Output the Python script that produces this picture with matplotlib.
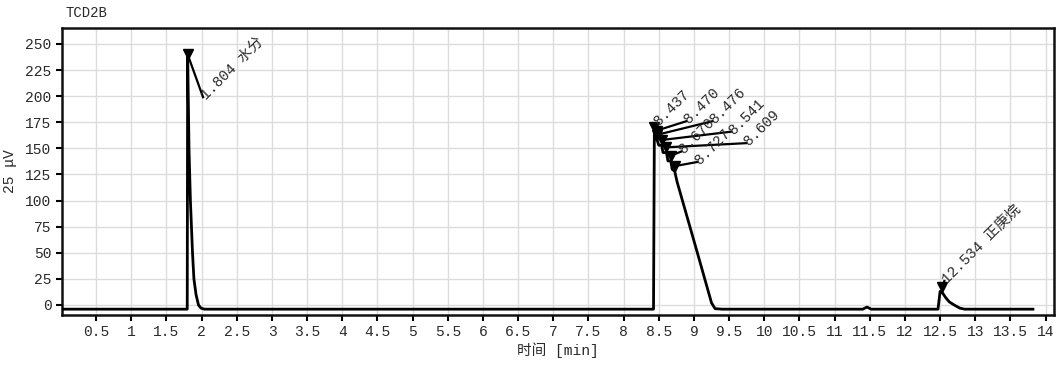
import matplotlib
matplotlib.use("Agg")
import matplotlib.pyplot as plt
from matplotlib.ticker import FuncFormatter

# ---- data ----
trace_t = [0.03, 1.795, 1.801, 1.82, 1.84, 1.87, 1.89, 1.92, 1.955, 1.99, 2.04,
           8.425, 8.437, 8.45, 8.470, 8.476, 8.50, 8.541, 8.56, 8.609, 8.63, 8.670, 8.69,
           8.727, 8.76, 9.04, 9.25, 9.30, 9.40,
           11.40, 11.46, 11.52,
           12.47, 12.50, 12.53, 12.58, 12.63, 12.70, 12.78, 12.85, 13.82]
trace_v = [-4, -4, 240, 150, 100, 50, 25, 10, 0, -3, -4,
           -4, 166, 162, 162, 158, 153, 153, 146, 146, 138, 138, 130,
           128, 118, 52, 2, -3.5, -4,
           -4, -2, -4,
           -4, 13, 12, 7, 3, 0, -3, -4, -4]

peak_t = [1.801, 8.437, 8.470, 8.476, 8.541, 8.609, 8.670, 8.727, 12.534]
peak_v = [240, 170, 167, 163, 158, 151, 143, 133, 17]
peak_labels = ["1.804 水分", "8.437", "8.470", "8.476", "8.541", "8.609", "8.670", "8.727",
               "12.534 正庚烷"]
label_t = [2.02, 8.46, 8.89, 9.26, 9.53, 9.74, 8.82, 9.05, 12.56]
label_v = [199, 174, 176, 176, 166, 155, 147, 137, 23]

x_ticks = [0.5 * i for i in range(1, 29)]
y_ticks = [0, 25, 50, 75, 100, 125, 150, 175, 200, 225, 250]

title_text = "TCD2B"
x_label = "时间 [min]"
y_label = "25 μV"

# ---- style ----
fam = ["Liberation Mono", "Noto Sans CJK SC", "DejaVu Sans"]
plt.rcParams["font.family"] = fam

fig = plt.figure(figsize=(10.57, 3.65), dpi=100)
ax = fig.add_axes([0.0587, 0.1378, 0.9385, 0.7855])

ax.plot(trace_t, trace_v, color="black", lw=2.0, zorder=3)
ax.plot(peak_t, peak_v, linestyle="none", marker="v", color="black", ms=7, zorder=4)

for pt, pv, lt, lv, txt in zip(peak_t, peak_v, label_t, label_v, peak_labels):
    ax.plot([pt, lt], [pv, lv], color="black", lw=1.6, zorder=4)
    ax.text(lt, lv, txt, rotation=45, rotation_mode="anchor", ha="left", va="center",
            fontsize=10.5, color="#2a2a2a", family=fam, zorder=5)

ax.set_xlim(0.015, 14.12)
ax.set_ylim(-9.3, 265.3)
ax.set_xticks(x_ticks)
ax.set_yticks(y_ticks)
ax.xaxis.set_major_formatter(FuncFormatter(lambda v, p: f"{v:g}"))
ax.grid(True, color="#dcdcdc", lw=1.0, zorder=0)
ax.set_axisbelow(True)
ax.tick_params(direction="out", length=4, width=1.5, labelsize=10.5, colors="black",
               labelcolor="#2a2a2a")
for s in ax.spines.values():
    s.set_linewidth(1.8)
    s.set_color("#111111")

ax.set_xlabel(x_label, fontsize=10.5, labelpad=2, color="#2a2a2a")
ax.set_ylabel(y_label, fontsize=10.5, labelpad=6, color="#2a2a2a")
fig.text(0.062, 0.965, title_text, fontsize=10, ha="left", va="center", color="#2a2a2a")

fig.savefig("out.png", dpi=100)
